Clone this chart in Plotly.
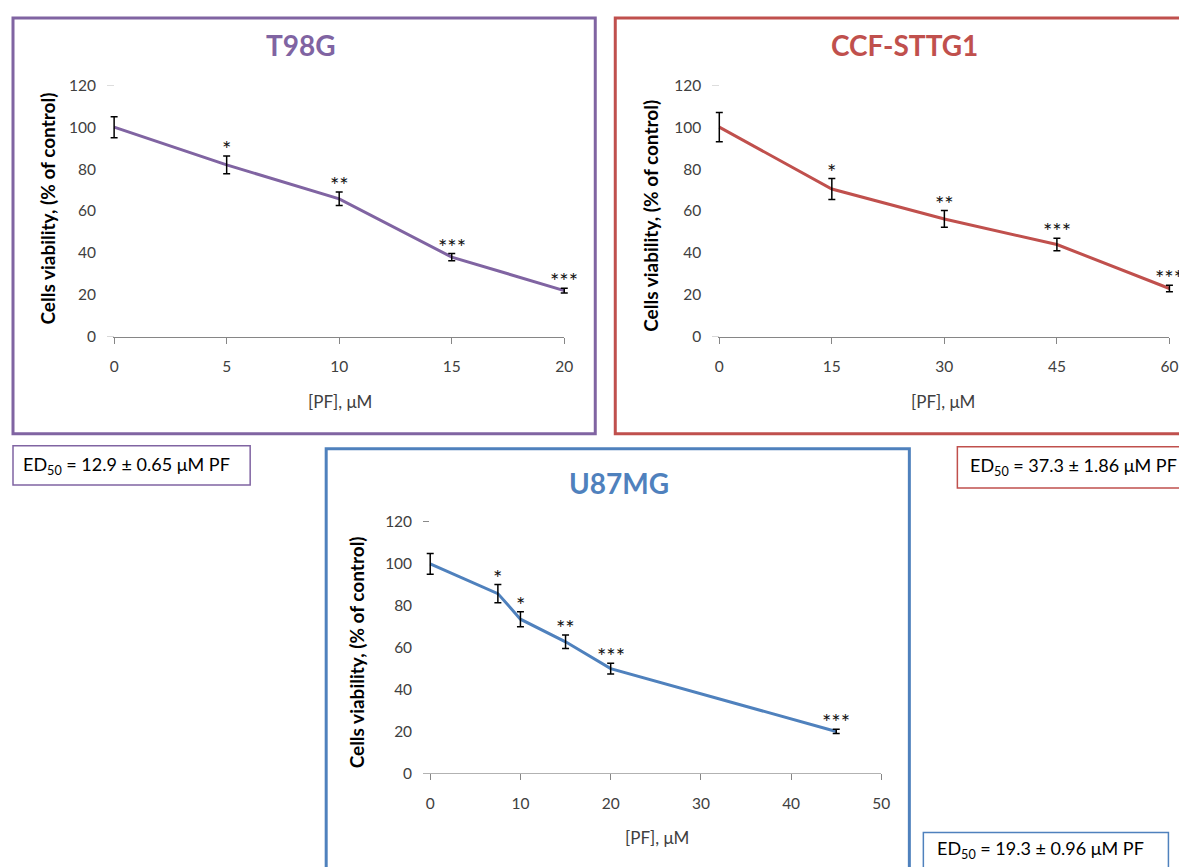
import plotly.graph_objects as go

# page has an 8px body margin; the photo shows page coords as  a + s*page
OFF = 8
W, H = 1195, 880
AX, SX = 5.0, 0.988
AY, SY = 11.0, 0.978

# ---------------- data ----------------
t98g_dose = [0, 5, 10, 15, 20]
t98g_viab = [100, 82, 65.8, 38, 22]
t98g_err = [5, 4.2, 3.2, 1.7, 1.1]
t98g_sig = ["", "*", "**", "***", "***"]
t98g_xticks = [0, 5, 10, 15, 20]

ccf_dose = [0, 15, 30, 45, 60]
ccf_viab = [100, 70.5, 56.2, 44, 23]
ccf_err = [7, 5, 4, 3, 1.5]
ccf_sig = ["", "*", "**", "***", "***"]
ccf_xticks = [0, 15, 30, 45, 60]

u87_dose = [0, 7.5, 10, 15, 20, 45]
u87_viab = [100, 85.8, 73.6, 62.8, 50, 20]
u87_err = [5, 4.3, 3.6, 3.2, 2.6, 1]
u87_sig = ["", "*", "*", "**", "***", "***"]
u87_xticks = [0, 10, 20, 30, 40, 50]

y_ticks = [0, 20, 40, 60, 80, 100, 120]

titles = ["T98G", "CCF-STTG1", "U87MG"]
ed50_texts = ["ED<sub>50</sub> = 12.9 ± 0.65 μM PF",
              "ED<sub>50</sub> = 37.3 ± 1.86 μM PF",
              "ED<sub>50</sub> = 19.3 ± 0.96 μM PF"]
colors = ["#8064A2", "#C0504D", "#4F81BD"]

FONT = "Lato"


def ix(x):
    return (x - AX) / SX - OFF


def iy(y):
    return (y - AY) / SY - OFF


def px(x):
    return min(max(ix(x) / W, 0), 1)


def py(y):
    return min(max(1 - iy(y) / H, 0), 1)


fig = go.Figure()

panels = [
    dict(dose=t98g_dose, viab=t98g_viab, err=t98g_err, sig=t98g_sig, xt=t98g_xticks,
         xr=[0, 20], plot=(114, 564, 86, 337), box=(9.5, 595, 13, 434),
         title_xy=(301, 46), ytitle_xy=(47, 209), xtitle_xy=(340, 402),
         ed_box=(9.5, 250, 446, 485), ed_txt=(21, 466)),
    dict(dose=ccf_dose, viab=ccf_viab, err=ccf_err, sig=ccf_sig, xt=ccf_xticks,
         xr=[0, 60], plot=(719, 1169, 86, 337), box=(615, 1200, 13, 434),
         title_xy=(904, 46), ytitle_xy=(650, 216), xtitle_xy=(943, 402),
         ed_box=(957, 1200, 447, 488), ed_txt=(968, 467)),
    dict(dose=u87_dose, viab=u87_viab, err=u87_err, sig=u87_sig, xt=u87_xticks,
         xr=[0, 50], plot=(430, 881, 522, 773), box=(326, 909, 449, 880),
         title_xy=(619, 483), ytitle_xy=(356, 652), xtitle_xy=(657, 837),
         ed_box=(923, 1168, 832, 880), ed_txt=(935, 849)),
]

shapes = []
annotations = []
PAD = 12  # px of extra room so end-point error bars are not clipped

for i, p in enumerate(panels):
    n = "" if i == 0 else str(i + 1)
    xa, ya = "x" + n, "y" + n
    hx = "x" + str(i + 4)  # hidden, slightly wider x axis with identical scale
    c = colors[i]
    x0, x1, y0, y1 = p["plot"]
    r0, r1 = p["xr"]
    upp = (r1 - r0) / (x1 - x0)

    fig.add_trace(go.Scatter(x=p["dose"], y=p["viab"], mode="lines",
                             line=dict(color=c, width=3), xaxis=hx, yaxis=ya,
                             showlegend=False, hoverinfo="skip"))
    fig.add_trace(go.Scatter(x=p["dose"], y=p["viab"], mode="markers",
                             marker=dict(size=0.1, color=c),
                             error_y=dict(type="data", array=p["err"], visible=True,
                                          color="black", thickness=1.5, width=3.5),
                             xaxis=hx, yaxis=ya, showlegend=False, hoverinfo="skip"))

    axis_common = dict(showgrid=False, zeroline=False, showline=True,
                       linecolor="#868686", linewidth=1, ticks="outside",
                       ticklen=6, tickcolor="#868686", tickwidth=1,
                       tickfont=dict(family=FONT, size=15.5, color="#404040"))
    fig.update_layout({
        ("xaxis" + n): dict(axis_common, domain=[px(x0), px(x1)], range=p["xr"],
                            tickmode="array", tickvals=p["xt"], anchor=ya,
                            ticklabelstandoff=10),
        ("yaxis" + n): dict(axis_common, domain=[py(y1), py(y0)], range=[0, 120],
                            tickmode="array", tickvals=y_ticks, anchor=xa,
                            ticklabelstandoff=8),
        ("xaxis" + str(i + 4)): dict(domain=[px(x0 - PAD), px(x1 + PAD)],
                                     range=[r0 - PAD * upp, r1 + PAD * upp],
                                     visible=False, showgrid=False, zeroline=False,
                                     anchor=ya),
    })

    for d, v, e, s in zip(p["dose"], p["viab"], p["err"], p["sig"]):
        if s:
            annotations.append(dict(x=d, y=v + e, xref=xa, yref=ya, text=s,
                                    showarrow=False, yanchor="bottom", yshift=-8,
                                    font=dict(family=FONT, size=22, color="#111111")))

    bx0, bx1, by0, by1 = p["box"]
    shapes.append(dict(type="rect", xref="paper", yref="paper",
                       x0=px(bx0), x1=px(bx1), y0=py(by1), y1=py(by0),
                       line=dict(color=c, width=3), layer="below"))
    tx, ty = p["title_xy"]
    annotations.append(dict(x=px(tx), y=py(ty), xref="paper", yref="paper",
                            text="<b>" + titles[i] + "</b>", showarrow=False,
                            xanchor="center", yanchor="middle",
                            font=dict(family=FONT, size=28, color=c)))
    yx, yy = p["ytitle_xy"]
    annotations.append(dict(x=px(yx), y=py(yy), xref="paper", yref="paper",
                            text="<b>Cells viability, (% of control)</b>", showarrow=False,
                            textangle=-90, xanchor="center", yanchor="middle",
                            font=dict(family=FONT, size=19, color="black")))
    xx, xy = p["xtitle_xy"]
    annotations.append(dict(x=px(xx), y=py(xy), xref="paper", yref="paper",
                            text="[PF], μM", showarrow=False,
                            xanchor="center", yanchor="middle",
                            font=dict(family=FONT, size=17, color="#404040")))
    ex0, ex1, ey0, ey1 = p["ed_box"]
    shapes.append(dict(type="rect", xref="paper", yref="paper",
                       x0=px(ex0), x1=px(ex1), y0=py(ey1), y1=py(ey0),
                       line=dict(color=c, width=1.5), layer="below"))
    etx, ety = p["ed_txt"]
    annotations.append(dict(x=px(etx), y=py(ety), xref="paper", yref="paper",
                            text=ed50_texts[i], showarrow=False,
                            xanchor="left", yanchor="middle",
                            font=dict(family=FONT, size=18, color="black")))

fig.update_layout(width=W, height=H, margin=dict(l=0, r=0, t=0, b=0),
                  paper_bgcolor="white", plot_bgcolor="white",
                  shapes=shapes, annotations=annotations, showlegend=False)

fig.write_html("out.html")
